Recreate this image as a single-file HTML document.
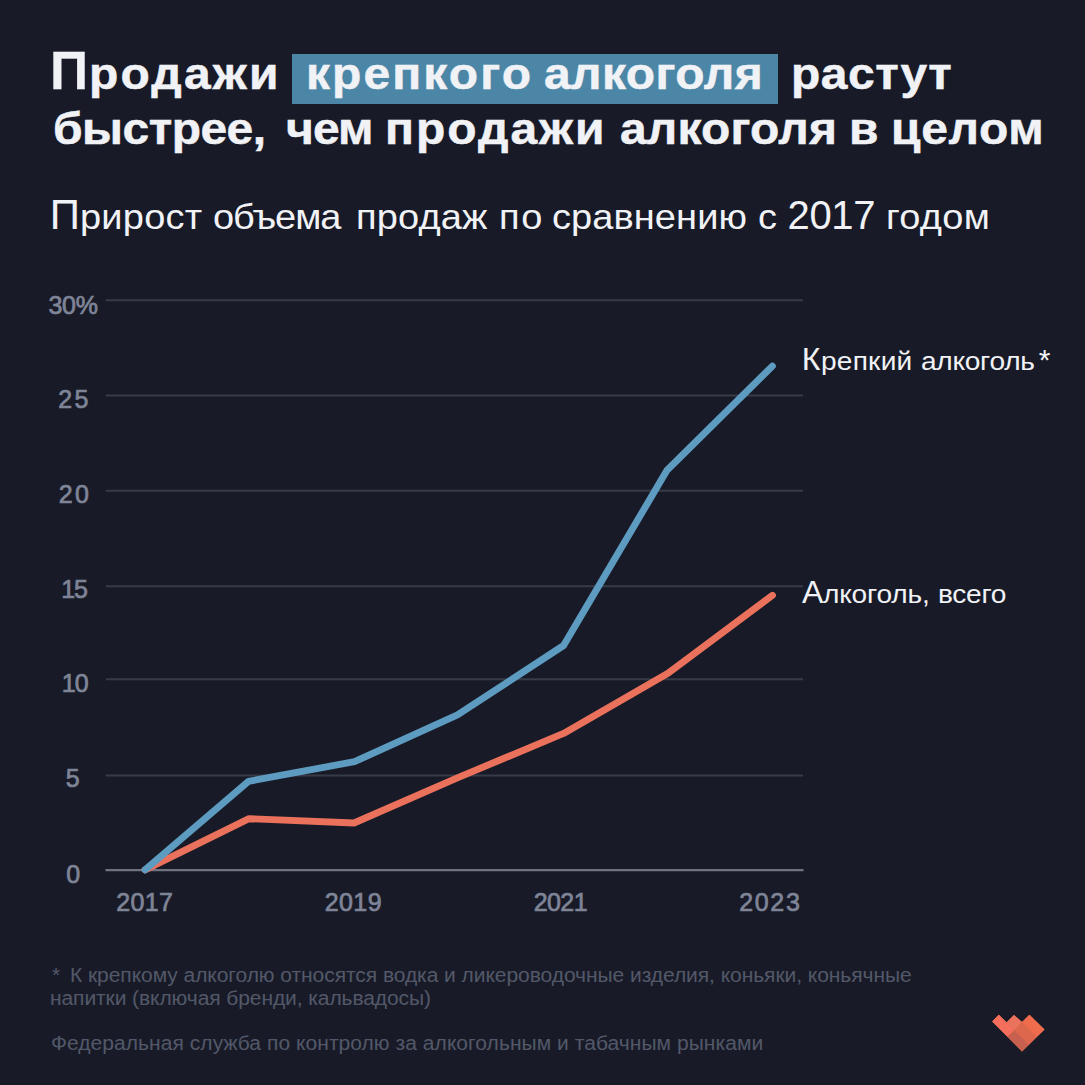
<!DOCTYPE html>
<html lang="ru">
<head>
<meta charset="utf-8">
<title>Продажи крепкого алкоголя растут быстрее, чем продажи алкоголя в целом</title>
<style>
html,body{margin:0;padding:0;background:#181b27;}
body{width:1085px;height:1085px;position:relative;overflow:hidden;font-family:"Liberation Sans",sans-serif;}
h1,p,div.lab,div.ax{margin:0;padding:0;font-size:0;line-height:0;font-weight:400;}
.t{position:absolute;white-space:nowrap;line-height:1;transform-origin:0 84.65%;-webkit-text-stroke-color:currentColor;}
.title .t{font-weight:700;color:#f1f2f6;}
.sub .t,.lab .t{color:#f1f2f6;}
.ax .t{color:#7f8497;}
.note .t{color:#535869;}
.box{position:absolute;left:292.4px;top:54.1px;width:485.6px;height:50.2px;background:#4c86a7;}
svg{position:absolute;left:0;top:0;}
</style>
</head>
<body>
<svg width="1085" height="1085" viewBox="0 0 1085 1085">
<line x1="105.8" x2="803" y1="775.4" y2="775.4" stroke="#373b48" stroke-width="2"/><line x1="105.8" x2="803" y1="679.3" y2="679.3" stroke="#373b48" stroke-width="2"/><line x1="105.8" x2="803" y1="586.3" y2="586.3" stroke="#373b48" stroke-width="2"/><line x1="105.8" x2="803" y1="490.8" y2="490.8" stroke="#373b48" stroke-width="2"/><line x1="105.8" x2="803" y1="395.5" y2="395.5" stroke="#373b48" stroke-width="2"/><line x1="105.8" x2="803" y1="300.2" y2="300.2" stroke="#373b48" stroke-width="2"/><line x1="105.5" x2="803.5" y1="870.1" y2="870.1" stroke="#6f7381" stroke-width="2.4"/>
<polyline points="145,869.8 249,818.7 354,823 458.5,777.4 563.6,733.4 668,673.3 772.5,595.3" fill="none" stroke="#ea715c" stroke-width="6.9" stroke-linejoin="round" stroke-linecap="round"/><polyline points="145,869.8 248.5,781.3 354.5,761.7 457.5,714.9 563.6,645.5 667,470.3 772.4,366.1" fill="none" stroke="#5e9bc1" stroke-width="6.9" stroke-linejoin="round" stroke-linecap="round"/>
<polygon points="992.17,1021.38 998.80,1014.75 1006.69,1022.34 1013.92,1015.12 1022.03,1021.90 1029.40,1014.75 1044.52,1029.49 1022.03,1051.61" fill="#e96a50"/><polygon points="992.17,1021.38 998.80,1014.75 1014.21,1030.16 1007.58,1036.79" fill="#f66e5c"/><polygon points="1006.69,1022.34 1013.92,1015.12 1022.03,1021.90 1014.21,1030.16" fill="#ea735c"/><polygon points="1014.21,1030.16 1022.10,1021.97 1036.92,1036.72 1028.96,1044.83" fill="#dc674c"/><polygon points="1022.10,1021.97 1029.40,1014.75 1044.52,1029.49 1036.92,1036.72" fill="#ef6c4c"/><polygon points="1007.58,1036.79 1014.21,1030.16 1028.96,1044.83 1022.03,1051.61" fill="#c7604e"/>
</svg>
<div class="box"></div>
<h1 class="title"><span class="t" style="left:49.90px;top:44px;font-size:53px;-webkit-text-stroke-width:0.3px">П</span><span class="t" style="left:89.14px;top:51px;font-size:45px;letter-spacing:2.07px;transform:scale(1.065,1.0);-webkit-text-stroke-width:0.5px">родажи</span> <span class="t" style="left:305.57px;top:51px;font-size:45px;letter-spacing:1.99px;transform:scale(1.065,1.0);-webkit-text-stroke-width:0.5px">крепкого</span> <span class="t" style="left:544.40px;top:51px;font-size:45px;letter-spacing:0.41px;transform:scale(1.065,1.0);-webkit-text-stroke-width:0.5px">алкоголя</span> <span class="t" style="left:790.64px;top:51px;font-size:45px;letter-spacing:0.52px;transform:scale(1.065,1.0);-webkit-text-stroke-width:0.5px">растут</span><br>
<span class="t" style="left:52.54px;top:106px;font-size:45px;letter-spacing:-0.47px;transform:scale(1.065,1.0);-webkit-text-stroke-width:0.5px">быстрее,</span> <span class="t" style="left:285.60px;top:106px;font-size:45px;letter-spacing:-0.81px;transform:scale(1.065,1.0);-webkit-text-stroke-width:0.5px">чем</span> <span class="t" style="left:385.27px;top:106px;font-size:45px;letter-spacing:1.90px;transform:scale(1.065,1.0);-webkit-text-stroke-width:0.5px">продажи</span> <span class="t" style="left:620.20px;top:106px;font-size:45px;letter-spacing:0.19px;transform:scale(1.065,1.0);-webkit-text-stroke-width:0.5px">алкоголя</span> <span class="t" style="left:849.41px;top:106px;font-size:45px;transform:scale(1.065,1.0);-webkit-text-stroke-width:0.5px">в</span> <span class="t" style="left:890.67px;top:106px;font-size:45px;letter-spacing:0.63px;transform:scale(1.065,1.0);-webkit-text-stroke-width:0.5px">целом</span></h1>
<p class="sub"><span class="t" style="left:49.80px;top:194px;font-size:42px">П</span><span class="t" style="left:79.93px;top:199px;font-size:35px;letter-spacing:0.21px;transform:scale(1.085,1.0)">рирост</span> <span class="t" style="left:213.11px;top:199px;font-size:35px;letter-spacing:-0.99px;transform:scale(1.085,1.0)">объема</span> <span class="t" style="left:355.83px;top:199px;font-size:35px;letter-spacing:0.16px;transform:scale(1.085,1.0)">продаж</span> <span class="t" style="left:499.13px;top:199px;font-size:35px;letter-spacing:1.64px;transform:scale(1.085,1.0)">по</span> <span class="t" style="left:552.31px;top:199px;font-size:35px;letter-spacing:0.09px;transform:scale(1.085,1.0)">сравнению</span> <span class="t" style="left:757.99px;top:199px;font-size:35px;transform:scale(1.085,1.0)">с</span> <span class="t" style="left:787.60px;top:195px;font-size:40px;letter-spacing:-0.38px">2017</span> <span class="t" style="left:885.93px;top:199px;font-size:35px;letter-spacing:0.26px;transform:scale(1.085,1.0)">годом</span></p>
<div class="lab"><span class="t" style="left:801.75px;top:343px;font-size:32px">К</span><span class="t" style="left:821.32px;top:348px;font-size:26px;letter-spacing:0.21px;transform:scale(1.08,1.0)">репкий</span> <span class="t" style="left:921.42px;top:348px;font-size:26px;letter-spacing:-0.26px;transform:scale(1.08,1.0)">алкоголь</span><span class="t" style="left:1038.65px;top:345px;font-size:30px">*</span></div>
<div class="lab"><span class="t" style="left:801.95px;top:576px;font-size:32px">А</span><span class="t" style="left:822.80px;top:581px;font-size:26px;letter-spacing:-0.18px;transform:scale(1.08,1.0)">лкоголь,</span> <span class="t" style="left:938.22px;top:581px;font-size:26px;letter-spacing:-0.24px;transform:scale(1.08,1.0)">всего</span></div>
<div class="ax"><span class="t" style="left:48.45px;top:293px;font-size:25px;letter-spacing:-0.25px;-webkit-text-stroke-width:0.7px">30%</span> <span class="t" style="left:58.32px;top:387px;font-size:25px;letter-spacing:2.25px;-webkit-text-stroke-width:0.7px">25</span> <span class="t" style="left:58.82px;top:482px;font-size:25px;letter-spacing:2.25px;-webkit-text-stroke-width:0.7px">20</span> <span class="t" style="left:61.26px;top:577px;font-size:25px;letter-spacing:-1.12px;-webkit-text-stroke-width:0.7px">15</span> <span class="t" style="left:61.65px;top:671px;font-size:25px;letter-spacing:-0.90px;-webkit-text-stroke-width:0.7px">10</span> <span class="t" style="left:65.75px;top:766px;font-size:25px;-webkit-text-stroke-width:0.7px">5</span> <span class="t" style="left:66.30px;top:862px;font-size:25px;-webkit-text-stroke-width:0.7px">0</span></div>
<div class="ax"><span class="t" style="left:116.35px;top:890px;font-size:25px;letter-spacing:0.33px;-webkit-text-stroke-width:0.7px">2017</span> <span class="t" style="left:324.65px;top:890px;font-size:25px;letter-spacing:0.46px;-webkit-text-stroke-width:0.7px">2019</span> <span class="t" style="left:533.75px;top:890px;font-size:25px;letter-spacing:-0.60px;-webkit-text-stroke-width:0.7px">2021</span> <span class="t" style="left:739.15px;top:890px;font-size:25px;letter-spacing:1.70px;-webkit-text-stroke-width:0.7px">2023</span></div>
<p class="note"><span class="t" style="left:51.85px;top:965px;font-size:20px;transform:scale(1.05,1.0)">*</span> <span class="t" style="left:70.45px;top:965px;font-size:20px;letter-spacing:-0.05px;transform:scale(1.05,1.0)">К крепкому алкоголю относятся водка и ликероводочные изделия, коньяки, коньячные</span><br>
<span class="t" style="left:50.05px;top:988px;font-size:20px;letter-spacing:-0.08px;transform:scale(1.05,1.0)">напитки (включая бренди, кальвадосы)</span></p>
<p class="note"><span class="t" style="left:50.55px;top:1033px;font-size:20px;letter-spacing:0.05px;transform:scale(1.05,1.0)">Федеральная служба по контролю за алкогольным и табачным рынками</span></p>
</body>
</html>
